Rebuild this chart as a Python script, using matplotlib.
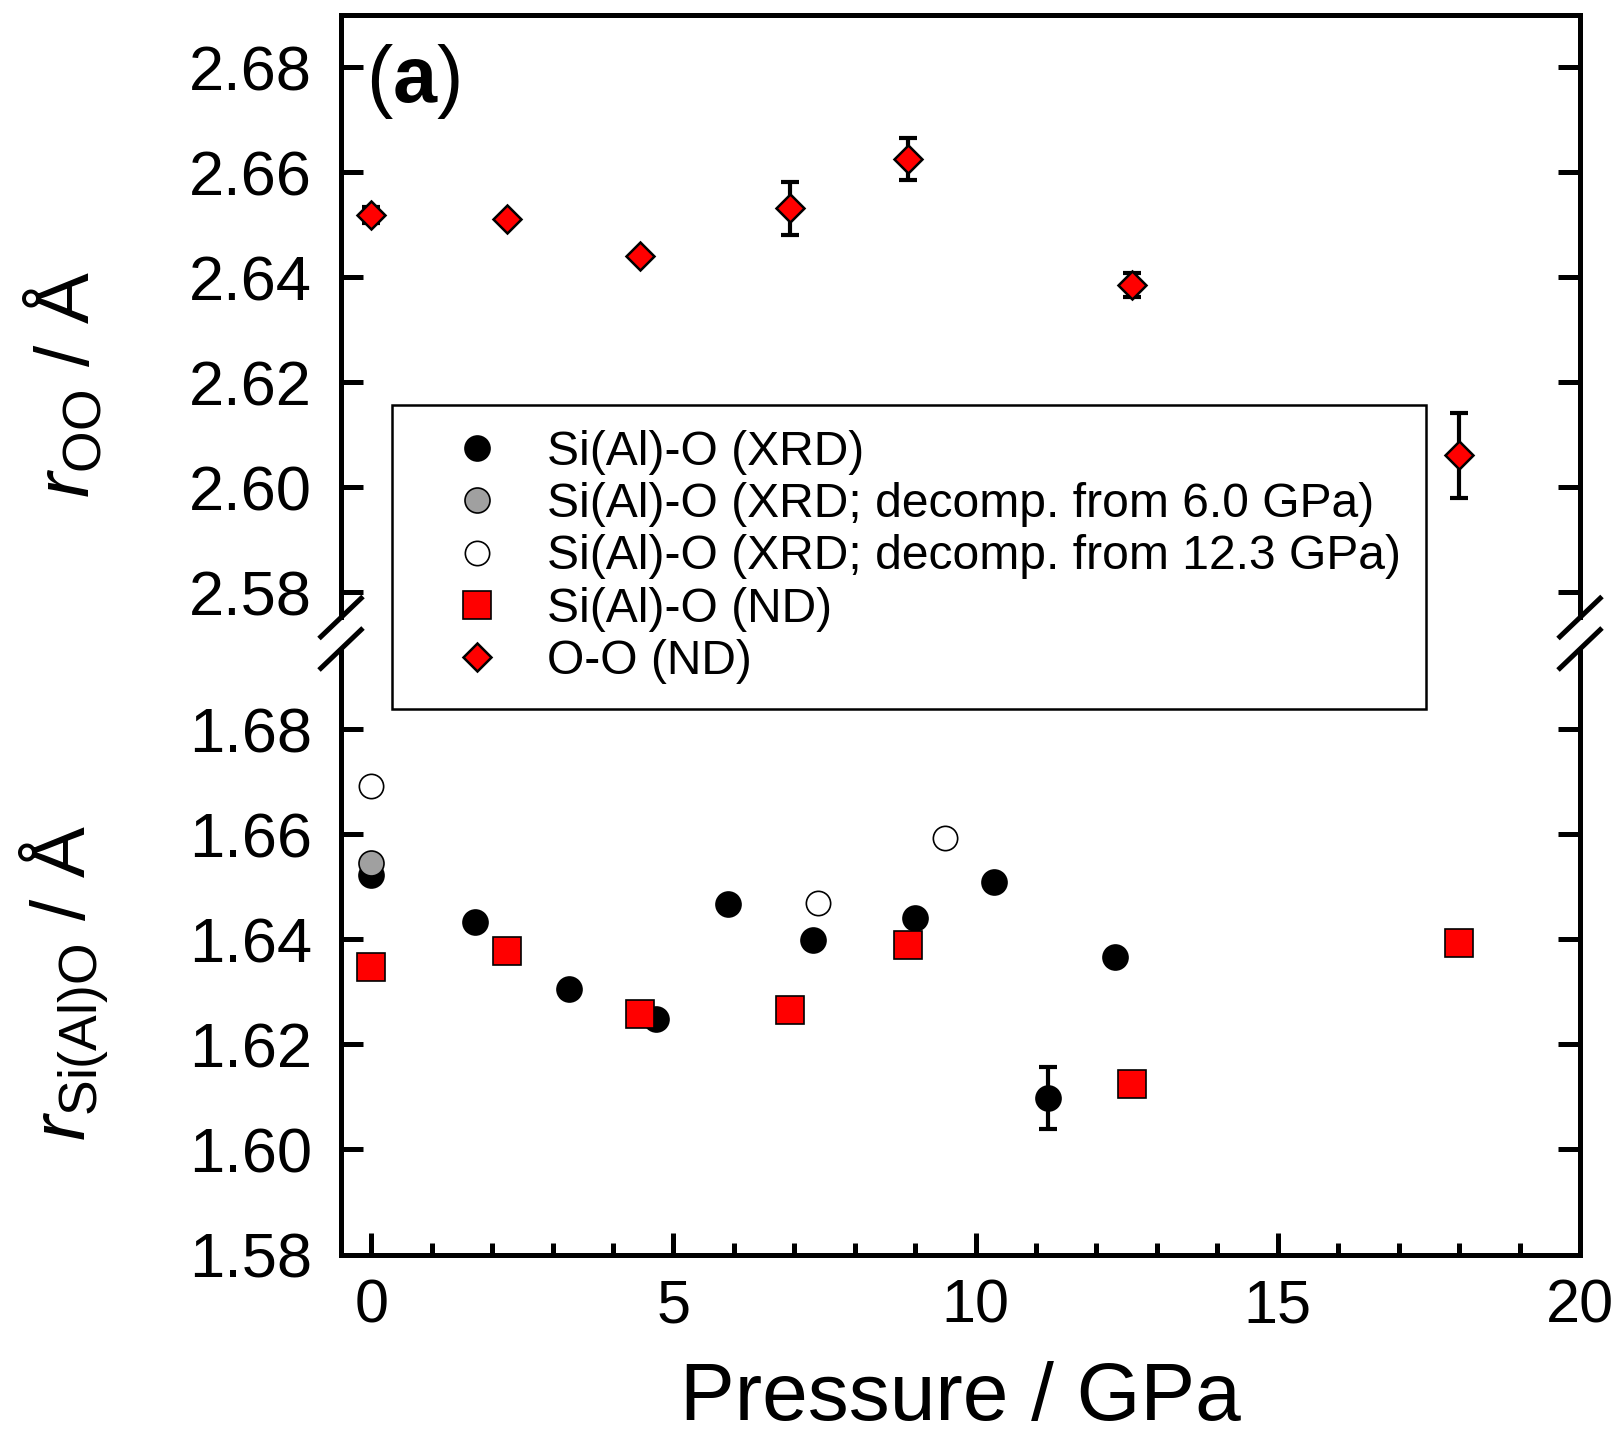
import matplotlib
matplotlib.use('Agg')
from matplotlib import pyplot as plt
from matplotlib.lines import Line2D

plt.rcParams['font.family'] = ['Liberation Sans', 'DejaVu Sans']
plt.rcParams['mathtext.fontset'] = 'custom'
plt.rcParams['mathtext.rm'] = 'Liberation Sans'
plt.rcParams['mathtext.it'] = 'Liberation Sans:italic'

# O-O (ND) and Si(Al)-O (ND), same pressures
p_nd = [0, 2.25, 4.45, 6.93, 8.88, 12.58, 18.0]
r_oo = [2.6519, 2.6511, 2.6440, 2.6531, 2.6625, 2.6385, 2.6061]
r_oo_err = [0.0015, 0, 0, 0.0051, 0.0040, 0.0023, 0.0081]
r_sio_nd = [1.6347, 1.6377, 1.6257, 1.6265, 1.6390, 1.6125, 1.6394]

# Si(Al)-O (XRD)
p_xrd = [0, 1.71, 3.28, 4.71, 5.9, 7.31, 8.99, 10.31, 11.2, 12.3]
r_sio_xrd = [1.6522, 1.6434, 1.6306, 1.6249, 1.6467, 1.6399, 1.6440, 1.6509, 1.6098, 1.6366]
r_sio_xrd_err = [0, 0, 0, 0, 0, 0, 0, 0, 0.0059, 0]

# decompression runs
p_dec6 = [0]
r_dec6 = [1.6546]
p_dec12 = [0, 7.40, 9.50]
r_dec12 = [1.6692, 1.6469, 1.6593]

labels = ['Si(Al)-O (XRD)',
          'Si(Al)-O (XRD; decomp. from 6.0 GPa)',
          'Si(Al)-O (XRD; decomp. from 12.3 GPa)',
          'Si(Al)-O (ND)',
          'O-O (ND)']

W, H = 1619, 1437
fig = plt.figure(figsize=(W / 100, H / 100), dpi=100)
ax1 = fig.add_axes([341 / W, 1 - 617 / H, (1580 - 341) / W, (617 - 14.5) / H])
ax2 = fig.add_axes([341 / W, 1 - 1254.5 / H, (1580 - 341) / W, (1254.5 - 650) / H])

lw = 3.6
ebar = dict(fmt='none', ecolor='black', elinewidth=3, capsize=6.5, capthick=3, zorder=2)

# top: O-O
ax1.errorbar(p_nd, r_oo, yerr=r_oo_err, **ebar)
h_oo, = ax1.plot(p_nd, r_oo, 'D', ms=14.5, mfc='#ff0000', mec='black', mew=1.8,
                 ls='none', zorder=3, label=labels[4])

# bottom: Si(Al)-O
ax2.errorbar(p_xrd, r_sio_xrd, yerr=r_sio_xrd_err, **ebar)
h_x, = ax2.plot(p_xrd, r_sio_xrd, 'o', ms=18, mfc='black', mec='black', mew=1.2,
                ls='none', zorder=3, label=labels[0])
h_d6, = ax2.plot(p_dec6, r_dec6, 'o', ms=18, mfc='#a0a0a0', mec='black', mew=1.2,
                 ls='none', zorder=4, label=labels[1])
h_d12, = ax2.plot(p_dec12, r_dec12, 'o', ms=17.5, mfc='white', mec='black', mew=1.2,
                  ls='none', zorder=4, label=labels[2])
h_nd, = ax2.plot(p_nd, r_sio_nd, 's', ms=19.5, mfc='#ff0000', mec='black', mew=1.2,
                 ls='none', zorder=5, label=labels[3])

for ax in (ax1, ax2):
    ax.set_xlim(-0.5, 20)
    for s in ax.spines.values():
        s.set_linewidth(lw)
    ax.tick_params(axis='y', which='major', direction='in', length=15.8, width=lw,
                   left=True, right=True, labelsize=45.5, pad=21)
    ax.set_xticks([0, 5, 10, 15, 20])
    ax.set_xticks(range(0, 21), minor=True)

ax1.set_ylim(2.5753, 2.6900)
ax1.set_yticks([2.58, 2.60, 2.62, 2.64, 2.66, 2.68])
ax1.set_yticklabels(['2.58', '2.60', '2.62', '2.64', '2.66', '2.68'])
ax1.spines['bottom'].set_visible(False)
ax1.tick_params(axis='x', which='both', bottom=False, top=False, labelbottom=False)

ax2.set_ylim(1.58, 1.6951)
ax2.set_yticks([1.58, 1.60, 1.62, 1.64, 1.66, 1.68])
ax2.set_yticklabels(['1.58', '1.60', '1.62', '1.64', '1.66', '1.68'])
ax2.spines['top'].set_visible(False)
ax2.tick_params(axis='x', which='major', direction='in', length=15.8, width=lw,
                bottom=True, top=False, labelsize=44, pad=17)
ax2.tick_params(axis='x', which='minor', direction='in', length=9, width=lw,
                bottom=True, top=False)

# break marks on both spines
for xs in (341, 1580):
    for yc in (617.5, 649):
        fig.add_artist(Line2D([(xs - 22) / W, (xs + 22) / W],
                              [1 - (yc + 21) / H, 1 - (yc - 21) / H],
                              color='black', lw=lw, solid_capstyle='butt'))

# panel label: "(" + bold "a" + ")"
t1 = fig.text(366 / W, 1 - 102 / H, '(', fontsize=57, ha='left', va='baseline')
a1 = plt.annotate('a', xy=(1, 0), xycoords=t1, fontsize=57, fontweight='bold',
                  ha='left', va='bottom', annotation_clip=False)
a2 = plt.annotate(')', xy=(1, 0), xycoords=a1, fontsize=57,
                  ha='left', va='bottom', annotation_clip=False)

fig.text(960 / W, 1 - 1420 / H, 'Pressure / GPa', fontsize=59, ha='center', va='baseline')
fig.text(64 / W, 1 - 385 / H, r'$r_{\mathrm{OO}}$ / Å', fontsize=55, rotation=90,
         ha='center', va='center')
fig.text(64 / W, 1 - 983 / H, r'$r_{\mathrm{Si(Al)O}}$ / Å', fontsize=55, rotation=90,
         ha='center', va='center')

leg = fig.legend(handles=[h_x, h_d6, h_d12, h_nd, h_oo], labels=labels,
                 loc='upper left', bbox_to_anchor=(392 / W, 1 - 405 / H),
                 bbox_transform=fig.transFigure, borderaxespad=0, fontsize=34.6,
                 frameon=True, fancybox=False, framealpha=1, borderpad=0.52,
                 handlelength=2.5, handletextpad=0.2, labelspacing=0.15, numpoints=1)
leg.get_frame().set_edgecolor('black')
leg.get_frame().set_linewidth(1.8)
leg.set_zorder(10)

fig.savefig('out.png', dpi=100)
